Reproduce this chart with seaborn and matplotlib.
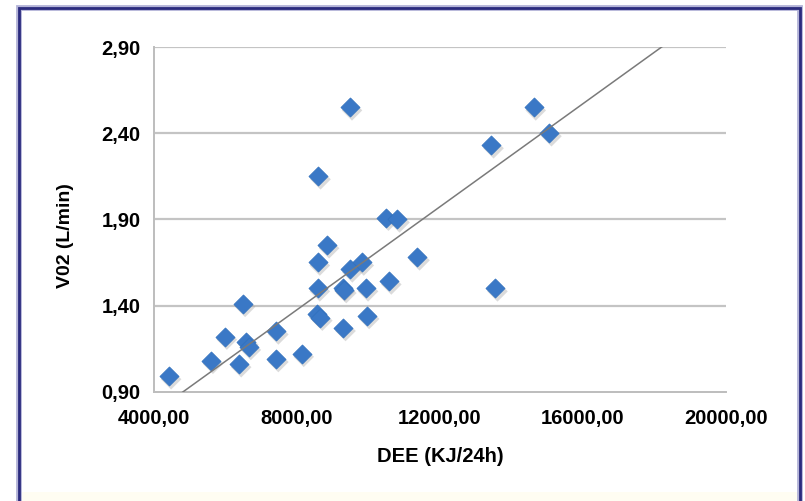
import numpy as np
import pandas as pd
import matplotlib
matplotlib.use('Agg')
import matplotlib.pyplot as plt
import matplotlib.transforms as mtransforms
from matplotlib.patches import Rectangle
from matplotlib.ticker import FuncFormatter
import seaborn as sns

# ---- data ----
dee = [4420, 5590, 5980, 6380, 6490, 6580, 6650, 7420, 7420, 8130,
       8580, 8580, 8560, 8650, 8840, 9280, 9320, 9300, 9490, 9810,
       9930, 9960, 10500, 10810, 10580, 11370, 9480, 8600, 14620, 15060,
       13440, 13550]
vo2 = [0.99, 1.08, 1.22, 1.06, 1.41, 1.19, 1.16, 1.25, 1.09, 1.12,
       1.65, 1.50, 1.35, 1.33, 1.75, 1.50, 1.49, 1.27, 1.61, 1.65,
       1.50, 1.34, 1.91, 1.90, 1.54, 1.68, 2.55, 2.15, 2.55, 2.40,
       2.33, 1.50]
# linear trendline as drawn in the reference (VO2 = intercept + slope * DEE)
trend_slope = 1.4945e-4
trend_intercept = 0.180
x_ticks = [4000, 8000, 12000, 16000, 20000]
y_ticks = [0.90, 1.40, 1.90, 2.40, 2.90]
x_label = 'DEE (KJ/24h)'
y_label = 'V02 (L/min)'

df = pd.DataFrame({'DEE': dee, 'VO2': vo2})
trend_x = np.array([x_ticks[0], x_ticks[-1]], dtype=float)
trend_df = pd.DataFrame({'DEE': trend_x, 'VO2': trend_intercept + trend_slope * trend_x})

sns.set_style('white')
plt.rcParams['font.family'] = ['Liberation Sans', 'DejaVu Sans']

fig = plt.figure(figsize=(8.05, 5.01), dpi=100)
fig.patch.set_facecolor('white')

# faint cream band at the bottom and navy frame
fig.patches.append(Rectangle((19 / 805, 0), (800 - 19) / 805, 9 / 501, transform=fig.transFigure,
                             facecolor='#fffdf2', edgecolor='none', zorder=0))
fig.patches.append(Rectangle((19 / 805, -0.1), (800 - 19) / 805, (501 - 7.5) / 501 + 0.1,
                             transform=fig.transFigure, fill=False,
                             edgecolor='#b4b4d8', lw=4.2, zorder=1))
fig.patches.append(Rectangle((19 / 805, -0.1), (800 - 19) / 805, (501 - 7.5) / 501 + 0.1,
                             transform=fig.transFigure, fill=False,
                             edgecolor='#2b2b7e', lw=2.0, zorder=2))

ax = fig.add_axes([154 / 805, 1 - 391.7 / 501, (726 - 154) / 805, (391.7 - 47) / 501])
ax.set_facecolor('none')
ax.set_xlim(x_ticks[0], x_ticks[-1])
ax.set_ylim(y_ticks[0], y_ticks[-1])

# grid lines
for yv in y_ticks[1:]:
    ax.axhline(yv, color='#c4c4c4', lw=1.6, zorder=0)

# trend line
sns.lineplot(data=trend_df, x='DEE', y='VO2', color='#7a7a7a', lw=1.1, zorder=4, ax=ax)

# marker shadow
shadow = ax.transData + mtransforms.ScaledTranslation(1.5 / 72, -2.2 / 72, fig.dpi_scale_trans)
sns.scatterplot(data=df, x='DEE', y='VO2', marker='D', s=110, color='#9a9a9a',
                alpha=0.35, edgecolor='none', linewidth=0, ax=ax,
                transform=shadow, zorder=2, legend=False)
sns.scatterplot(data=df, x='DEE', y='VO2', marker='D', s=95, color='#3a78c6',
                edgecolor='#3070bd', linewidth=0.5, ax=ax, zorder=3, legend=False)

ax.set_xticks(x_ticks)
ax.set_yticks(y_ticks)
ax.xaxis.set_major_formatter(FuncFormatter(lambda v, p: f'{v:.2f}'.replace('.', ',')))
ax.yaxis.set_major_formatter(FuncFormatter(lambda v, p: f'{v:.2f}'.replace('.', ',')))
ax.tick_params(axis='both', which='major', direction='out', length=4.5, width=1.0,
               color='#bdbdbd', labelsize=14.5, labelcolor='black')
ax.tick_params(axis='x', pad=8)
ax.tick_params(axis='y', pad=5)
for lab in ax.get_xticklabels() + ax.get_yticklabels():
    lab.set_fontweight('bold')

for s in ['top', 'right']:
    ax.spines[s].set_visible(False)
for s in ['left', 'bottom']:
    ax.spines[s].set_color('#bdbdbd')
    ax.spines[s].set_linewidth(1.4)

ax.set_xlabel(x_label, fontsize=14.5, fontweight='bold', color='black')
ax.set_ylabel(y_label, fontsize=14, fontweight='bold', color='black')
ax.xaxis.set_label_coords(0.5, -0.16)
ax.yaxis.set_label_coords(-0.14, 0.452)

fig.savefig('out.png', dpi=100, facecolor='white')
